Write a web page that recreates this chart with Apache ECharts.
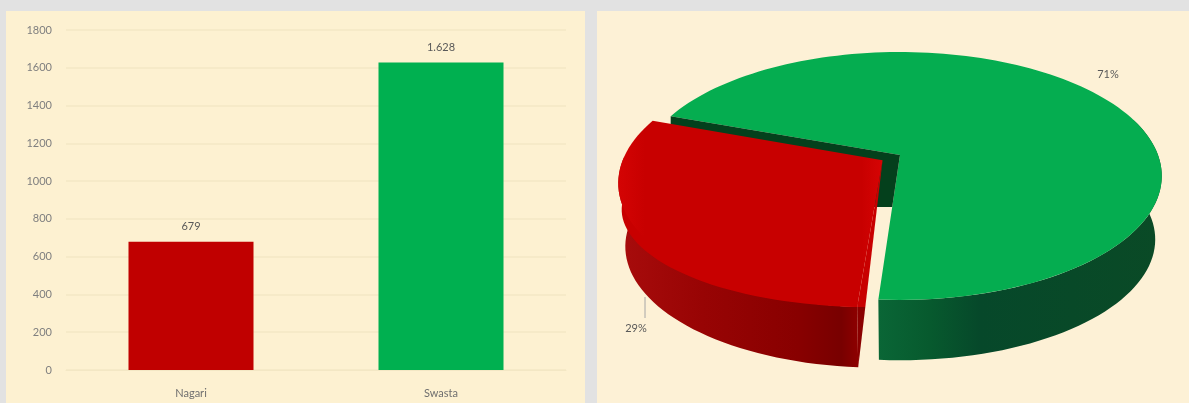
<!DOCTYPE html>
<html><head><meta charset="utf-8">
<style>html,body{margin:0;padding:0;background:#e2e2e2}#c{width:1189px;height:403px}</style>
<script src="https://cdn.jsdelivr.net/npm/echarts@6/dist/echarts.min.js"></script>
</head><body><div id="c"></div>
<script>
const categories = ['Nagari', 'Swasta'];
const barValues = [679, 1628];
const pieValues = [679, 1628];
const yTicks = { min: 0, max: 1800, interval: 200 };
const barColors = ['#c00000', '#00b050'];

const TXT = '#595959', FONT = 'Lato, "Open Sans", sans-serif';
// projection of the tilted disc
const P = { x0: 900, y0: 155, rx: 258, ry: 120.4, k: 0.169, depthY: 64, depthScale: 0.975 };
const START = 184, EXPLODE = 0.08, BEVEL = 32, BEVEL_INSET = 4;
const total = pieValues.reduce((a, b) => a + b, 0);
const sweepRed = pieValues[0] / total * 360;
const END = START + sweepRed;

function project(mx, my, low) {
  const w = 1 + P.k * my, s = low ? P.depthScale : 1, dy = low ? P.depthY : 0;
  return [P.x0 + P.rx * s * mx / w, P.y0 + dy - P.ry * s * my / w];
}
function rim(deg, ox, oy, low) {
  const t = deg * Math.PI / 180;
  return project(Math.sin(t) + ox, Math.cos(t) + oy, low);
}
function arc(a, b, ox, oy, low) {
  const pts = [], n = Math.ceil(Math.abs(b - a) / 2);
  for (let i = 0; i <= n; i++) pts.push(rim(a + (b - a) * i / n, ox, oy, low));
  return pts;
}
const lg = (stops) => new echarts.graphic.LinearGradient(0, 0, 1, 0, stops.map((s) => ({ offset: s[0], color: s[1] })));
const poly = (points, fill, z2) => ({ type: 'polygon', shape: { points }, style: { fill }, z2 });

function greenShapes() {
  const a = END, b = START + 360;
  const front0 = 72; // visible wall begins at the right-hand silhouette
  const wallTop = arc(front0, START, 0, 0, false);
  const wallBot = arc(front0, START, 0, 0, true).reverse();
  const rimPt = rim(a, 0, 0, false), apex = project(0, 0, false);
  const cutEnd = rim(START, 0, 0, false);
  const f = 52 / (cutEnd[1] - apex[1]);
  const cutPt = [apex[0] + (cutEnd[0] - apex[0]) * f, apex[1] + 52];
  return [
    poly(wallTop.concat(wallBot), lg([[0, '#0a6636'], [0.18, '#075a2e'], [0.36, '#06482a'], [1, '#0a4a26']]), 1),
    poly(arc(a, b, 0, 0, false).concat([apex]), '#05ad50', 2),
    poly([rimPt, apex, cutPt, [cutPt[0] - 20, cutPt[1]], [rimPt[0], rimPt[1] + 30]], '#04401c', 3)
  ];
}
function redShapes() {
  const mid = (START + END) / 2 * Math.PI / 180;
  const ox = Math.sin(mid) * EXPLODE, oy = Math.cos(mid) * EXPLODE;
  const apex = project(ox, oy, false);
  const nearT = rim(START, ox, oy, false), nearB = rim(START, ox, oy, true);
  const wallEnd = END - 18;
  const front = arc(START, wallEnd, ox, oy, false);
  const back = arc(START, wallEnd, ox, oy, true).reverse();
  const bevel = front.map((p, i) => {
    const u = i / (front.length - 1);
    return [p[0] + BEVEL_INSET * u, p[1] + BEVEL * Math.pow(u, 1.5)];
  });
  const inner = front.map((p) => [p[0] + (apex[0] - p[0]) * 0.03, p[1] + (apex[1] - p[1]) * 0.03]);
  const t = (nearT[1] - apex[1]) / (nearB[1] - apex[1]);
  const edge = [apex[0] + (nearB[0] - apex[0]) * t, nearT[1]];
  return [
    poly(front.concat(back), lg([[0, '#a80c0c'], [0.35, '#980404'], [0.75, '#880000'], [0.93, '#780000'], [1, '#8e0000']]), 4),
    poly([edge, nearT, nearB], '#8a0000', 4),
    poly(inner.concat(bevel.slice().reverse()), '#c80000', 5),
    poly([apex, nearT, edge], '#c80000', 5),
    poly(arc(START, END, ox, oy, false).concat([apex]), lg([[0, '#d40404'], [0.1, '#c80000'], [0.92, '#c80000'], [1, '#d60404']]), 6)
  ];
}
function pctLabel(v) { return Math.round(v / total * 100) + '%'; }

function renderPie(params, api) {
  const i = params.dataIndex, children = i === 0 ? redShapes() : greenShapes();
  const v = api.value(0);
  if (i === 0) {
    children.push({ type: 'line', shape: { x1: 645, y1: 297, x2: 645, y2: 318 }, style: { stroke: '#a6a6a6', lineWidth: 1 }, z2: 7 });
    children.push({ type: 'text', x: 636, y: 328, style: { text: pctLabel(v), fill: TXT, font: '11px ' + FONT, align: 'center', verticalAlign: 'middle' }, z2: 7 });
  } else {
    children.push({ type: 'text', x: 1108, y: 74, style: { text: pctLabel(v), fill: TXT, font: '11px ' + FONT, align: 'center', verticalAlign: 'middle' }, z2: 7 });
  }
  return { type: 'group', children };
}

const chart = echarts.init(document.getElementById('c'), null, { renderer: 'canvas' });
chart.setOption({
  animation: false,
  backgroundColor: '#e2e2e2',
  graphic: [
    { type: 'rect', z: -10, shape: { x: 6, y: 11, width: 579, height: 392 }, style: { fill: '#fdf1d1' } },
    { type: 'rect', z: -10, shape: { x: 597, y: 11, width: 592, height: 392 }, style: { fill: '#fdf1d6' } }
  ],
  grid: { left: 66, right: 623, top: 30, bottom: 33 },
  xAxis: {
    type: 'category', data: categories,
    axisLine: { lineStyle: { color: '#f3e7c4', width: 1 } }, axisTick: { show: false },
    axisLabel: { color: '#6f6f6f', fontSize: 11, fontFamily: FONT, margin: 18 }
  },
  yAxis: {
    type: 'value', min: yTicks.min, max: yTicks.max, interval: yTicks.interval,
    axisLine: { show: false }, axisTick: { show: false },
    axisLabel: { color: '#7f7f7f', fontSize: 11, fontFamily: FONT, margin: 14, formatter: (v) => String(v) },
    splitLine: { lineStyle: { color: '#f3e7c4', width: 1.5 } }
  },
  series: [
    {
      type: 'bar', barWidth: '50%',
      data: barValues.map((v, i) => ({ value: v, itemStyle: { color: barColors[i] } })),
      label: {
        show: true, position: 'top', distance: 10, color: TXT, fontSize: 11, fontFamily: FONT,
        formatter: (p) => String(p.value).replace(/\B(?=(\d{3})+$)/g, '.')
      }
    },
    { type: 'custom', coordinateSystem: 'none', data: pieValues, renderItem: renderPie, silent: true }
  ]
});
</script></body></html>
